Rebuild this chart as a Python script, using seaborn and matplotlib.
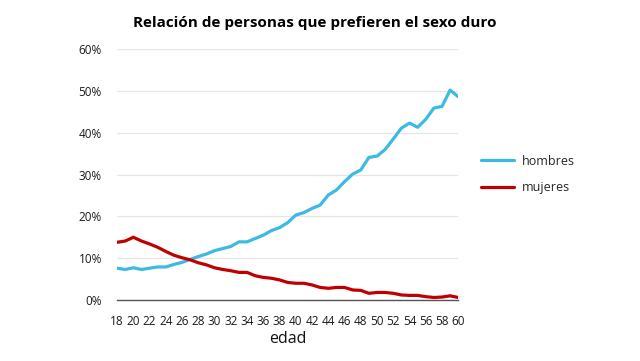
import matplotlib
matplotlib.use('Agg')
import matplotlib.pyplot as plt
import seaborn as sns
import pandas as pd
from matplotlib.ticker import FuncFormatter

# datos (porcentaje por edad)
edades = list(range(18, 61))
hombres = [7.6, 7.3, 7.7, 7.3, 7.6, 7.9, 7.9, 8.5, 9.0, 9.7,
           10.4, 11.0, 11.8, 12.3, 12.8, 13.9, 13.9, 14.7, 15.5, 16.6,
           17.3, 18.5, 20.3, 20.9, 21.9, 22.7, 25.1, 26.3, 28.3, 30.1,
           31.1, 34.1, 34.4, 36.0, 38.5, 41.1, 42.3, 41.3, 43.2, 45.9,
           46.3, 50.2, 48.6]
mujeres = [13.8, 14.1, 15.0, 14.1, 13.4, 12.6, 11.6, 10.7, 10.1, 9.6,
           8.9, 8.4, 7.7, 7.3, 7.0, 6.6, 6.6, 5.8, 5.4, 5.2,
           4.8, 4.2, 4.0, 4.0, 3.6, 3.0, 2.8, 3.0, 3.0, 2.4,
           2.3, 1.6, 1.8, 1.8, 1.6, 1.2, 1.1, 1.1, 0.8, 0.6,
           0.7, 1.0, 0.6]
series = ['hombres', 'mujeres']
colores = ['#3DB9E5', '#C00000']
titulo = 'Relación de personas que prefieren el sexo duro'

df = pd.DataFrame({
    'edad': edades * 2,
    'valor': hombres + mujeres,
    'serie': ['hombres'] * len(edades) + ['mujeres'] * len(edades),
})

sns.set_theme(style='white')
plt.rcParams['font.family'] = ['Open Sans', 'DejaVu Sans']

fig = plt.figure(figsize=(6.4, 3.61), dpi=100)
ax = fig.add_axes([0.183, 0.169, 0.533, 0.695])

sns.lineplot(data=df, x='edad', y='valor', hue='serie', hue_order=series,
             palette=colores, linewidth=2.3, ax=ax)

ax.set_xlim(18, 60)
ax.set_ylim(0, 60)
ax.set_xticks(range(18, 61, 2))
ax.set_yticks(range(0, 61, 10))
ax.yaxis.set_major_formatter(FuncFormatter(lambda v, p: f'{int(v)}%'))
ax.tick_params(axis='both', length=0, labelsize=8.5, colors='#1A1A1A')
ax.tick_params(axis='x', pad=11)
ax.tick_params(axis='y', pad=11)
ax.grid(axis='y', color='#E6E6E6', linewidth=0.9)
ax.set_axisbelow(True)
for s in ['top', 'right', 'left']:
    ax.spines[s].set_visible(False)
ax.spines['bottom'].set_color('#555555')
ax.spines['bottom'].set_linewidth(1.0)

ax.set_xlabel('edad', fontsize=11.5, labelpad=2, color='#111111')
ax.set_ylabel('')
ax.set_title(titulo, fontsize=11, fontweight='bold', pad=16, x=0.58,
             color='black')

ax.legend(loc='center left', bbox_to_anchor=(1.035, 0.5), frameon=False,
          fontsize=9, handlelength=2.6, handletextpad=0.6, labelspacing=1.1)

fig.savefig('out.png', dpi=100)
